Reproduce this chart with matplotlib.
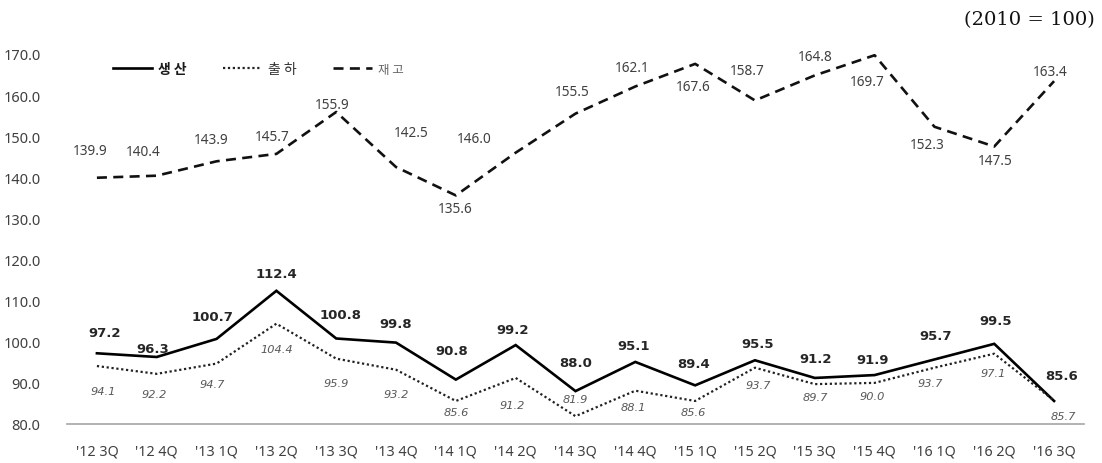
import matplotlib
matplotlib.use("Agg")
import matplotlib.pyplot as plt

plt.rcParams['font.family'] = ['Noto Sans', 'Noto Sans CJK KR', 'DejaVu Sans']

#---------- data ----------#
quarters = ["'12 3Q", "'12 4Q", "'13 1Q", "'13 2Q", "'13 3Q", "'13 4Q", "'14 1Q", "'14 2Q",
            "'14 3Q", "'14 4Q", "'15 1Q", "'15 2Q", "'15 3Q", "'15 4Q", "'16 1Q", "'16 2Q", "'16 3Q"]
production = [97.2, 96.3, 100.7, 112.4, 100.8, 99.8, 90.8, 99.2, 88.0, 95.1, 89.4, 95.5,
              91.2, 91.9, 95.7, 99.5, 85.6]
shipment = [94.1, 92.2, 94.7, 104.4, 95.9, 93.2, 85.6, 91.2, 81.9, 88.1, 85.6, 93.7,
            89.7, 90.0, 93.7, 97.1, 85.7]
inventory = [139.9, 140.4, 143.9, 145.7, 155.9, 142.5, 135.6, 146.0, 155.5, 162.1, 167.6, 158.7,
             164.8, 169.7, 152.3, 147.5, 163.4]
yticks = [80, 90, 100, 110, 120, 130, 140, 150, 160, 170]

# label offsets in pixels (dx, dy), dy up positive
prod_off = [(8, 21), (-4, 8), (-4, 22), (0, 17), (4, 24), (0, 19), (-4, 29), (-3, 16),
            (0, 29), (-2, 16), (-2, 22), (3, 17), (1, 19), (-2, 16), (1, 24), (1, 23), (8, 25)]
ship_off = [(6, -25), (-3, -20), (-4, -20), (0, -25), (0, -24), (0, -24), (0, -11), (-3, -27),
            (0, 17), (-2, -16), (-2, -11), (3, -17), (1, -13), (-2, -13), (-4, -15), (-1, -19), (9, -15)]
inv_off = [(-7, 27), (-14, 24), (-5, 22), (-4, 17), (-4, 7), (15, 35), (-1, -13), (-41, 14),
           (-3, 22), (-3, 19), (-2, -23), (-8, 30), (0, 19), (-7, -26), (-7, -18), (1, -14), (-4, 10)]

x = list(range(len(quarters)))

fig = plt.figure(figsize=(11.02, 4.64), dpi=100)
ax = fig.add_axes([67/1102, 1-425/464, 1017/1102, 370/464])

l1, = ax.plot(x, production, color='black', lw=1.9, solid_joinstyle='miter')
l2, = ax.plot(x, shipment, color='#222222', lw=1.6, linestyle=(0, (1, 1.2)))
l3, = ax.plot(x, inventory, color='#111111', lw=1.9, linestyle=(0, (3.8, 2.4)))

px = 72 / 100.0  # pixels -> points
for i in x:
    ax.annotate(f"{production[i]:.1f}", (i, production[i]),
                xytext=(prod_off[i][0]*px, prod_off[i][1]*px), textcoords='offset points',
                ha='center', va='center', fontsize=9.5, fontweight='bold', color='#262626',
                family=['DejaVu Sans'])
    ax.annotate(f"{shipment[i]:.1f}", (i, shipment[i]),
                xytext=(ship_off[i][0]*px, ship_off[i][1]*px), textcoords='offset points',
                ha='center', va='center', fontsize=8.2, fontstyle='italic', color='#595959',
                family=['DejaVu Sans'])
    ax.annotate(f"{inventory[i]:.1f}", (i, inventory[i]),
                xytext=(inv_off[i][0]*px, inv_off[i][1]*px), textcoords='offset points',
                ha='center', va='center', fontsize=9.8, color='#404040')

ax.set_xlim(-0.5, len(quarters) - 0.5)
ax.set_ylim(80, 170)
ax.set_xticks(x)
ax.set_xticklabels(quarters, fontsize=10.3, color='#404040')
ax.set_yticks(yticks)
ax.set_yticklabels([f"{v:.1f}" for v in yticks], fontsize=10.5, color='#404040')
ax.tick_params(axis='both', length=0)
ax.tick_params(axis='x', pad=14)
ax.tick_params(axis='y', pad=19)
for s in ['top', 'right', 'left']:
    ax.spines[s].set_visible(False)
ax.spines['bottom'].set_color('#a6a6a6')
ax.spines['bottom'].set_linewidth(1.2)

leg = ax.legend([l1, l2, l3], ['생 산', '출 하', '재 고'], ncol=3, frameon=False,
                loc='center left', bbox_to_anchor=(113/1102, 1-70/464),
                bbox_transform=fig.transFigure, borderpad=0, borderaxespad=0,
                handlelength=2.8, handletextpad=0.45, columnspacing=2.6,
                prop={'family': ['Noto Sans CJK KR'], 'size': 10})
t = leg.get_texts()
t[0].set_fontweight('bold')
t[0].set_color('#1a1a1a')
t[1].set_color('#333333')
t[2].set_color('#666666')
t[2].set_fontsize(9)

fig.text(1095/1102, 1-20/464, "(2010 = 100)", ha='right', va='center', fontsize=14,
         family=['DejaVu Serif'], color='#111111')

fig.savefig("out.png", dpi=100)
